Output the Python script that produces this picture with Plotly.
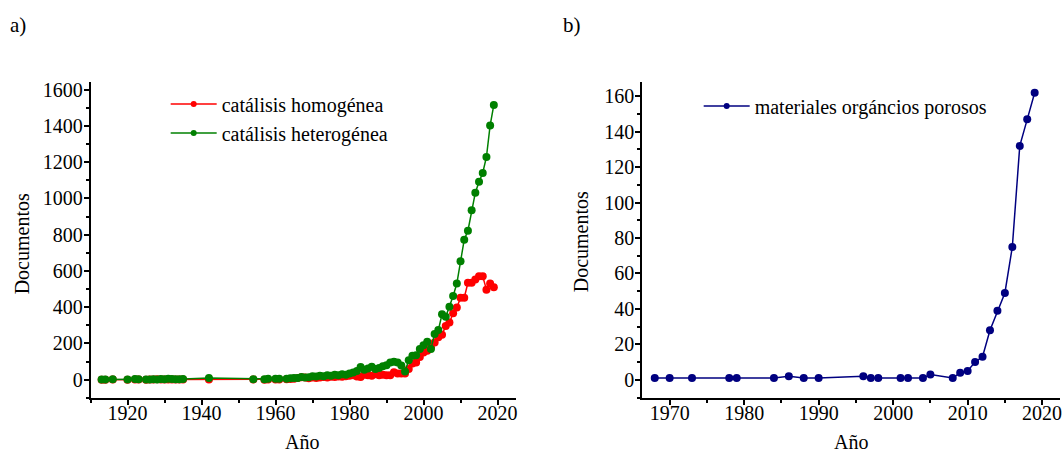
import plotly.graph_objects as go

# ---- a) catalysis publications per year ----
years_a = [1913, 1914, 1916, 1920, 1922, 1923, 1925, 1926, 1927, 1928, 1929, 1930,
           1931, 1932, 1933, 1934, 1935, 1942, 1954, 1957, 1958, 1960, 1961,
           1963, 1964, 1965, 1966, 1967, 1968, 1969, 1970, 1971, 1972, 1973, 1974,
           1975, 1976, 1977, 1978, 1979, 1980, 1981, 1982, 1983, 1984, 1985, 1986,
           1987, 1988, 1989, 1990, 1991, 1992, 1993, 1994, 1995, 1996, 1997, 1998,
           1999, 2000, 2001, 2002, 2003, 2004, 2005, 2006, 2007, 2008, 2009, 2010,
           2011, 2012, 2013, 2014, 2015, 2016, 2017, 2018, 2019]

homogenea = [0, 0, 1, 0, 1, 1, 0, 1, 2, 3, 1, 2,
             1, 2, 1, 2, 1, 1, 1, 0, 1, 1, 2,
             3, 4, 6, 10, 14, 12, 8, 12, 10, 13, 15, 12,
             17, 15, 18, 16, 20, 22, 25, 18, 15, 28, 25, 22,
             30, 25, 28, 25, 25, 42, 35, 35, 35, 60, 90, 95,
             125, 150, 160, 179, 206, 234, 248, 297, 316, 367, 398, 453,
             453, 535, 535, 553, 571, 571, 497, 531, 510]

heterogenea = [2, 2, 3, 2, 4, 3, 2, 2, 3, 2, 4, 3,
               5, 4, 3, 3, 4, 9, 3, 3, 5, 5, 6,
               6, 8, 10, 9, 15, 12, 14, 20, 18, 22, 20, 25,
               22, 27, 25, 30, 28, 35, 40, 48, 70, 55, 62, 72,
               60, 65, 75, 80, 95, 100, 95, 78, 45, 108, 133, 135,
               170, 190, 210, 170, 252, 274, 361, 347, 403, 462, 531, 654,
               773, 822, 935, 1032, 1092, 1141, 1229, 1403, 1516]

# ---- b) porous organic materials publications per year ----
years_b = [1968, 1970, 1973, 1978, 1979, 1984, 1986, 1988, 1990, 1996, 1997, 1998,
           2001, 2002, 2004, 2005, 2008, 2009, 2010, 2011, 2012, 2013, 2014, 2015,
           2016, 2017, 2018, 2019]
porosos = [1, 1, 1, 1, 1, 1, 2, 1, 1, 2, 1, 1,
           1, 1, 1, 3, 1, 4, 5, 10, 13, 28, 39, 49,
           75, 132, 147, 162]

FONT = "'Liberation Serif', 'Times New Roman', Times, serif"
FS = 20
W, H = 1062, 454

fig = go.Figure()

series_a = [("catálisis homogénea", homogenea, "#ff0000"),
            ("catálisis heterogénea", heterogenea, "#008000")]
for name, vals, col in series_a:
    fig.add_trace(go.Scatter(x=years_a, y=vals, mode="lines+markers", name=name,
                             line=dict(color=col, width=1.5),
                             marker=dict(color=col, size=8),
                             xaxis="x", yaxis="y", showlegend=False))
# legend entries use a smaller marker than the plotted points
for name, vals, col in series_a:
    fig.add_trace(go.Scatter(x=[None], y=[None], mode="lines+markers", name=name,
                             line=dict(color=col, width=1.5),
                             marker=dict(color=col, size=6),
                             xaxis="x", yaxis="y", legend="legend"))

fig.add_trace(go.Scatter(x=years_b, y=porosos, mode="lines+markers",
                         name="materiales orgáncios porosos",
                         line=dict(color="#000080", width=1.5),
                         marker=dict(color="#000080", size=8),
                         xaxis="x2", yaxis="y2", showlegend=False))
fig.add_trace(go.Scatter(x=[None], y=[None], mode="lines+markers",
                         name="materiales orgáncios porosos",
                         line=dict(color="#000080", width=1.5),
                         marker=dict(color="#000080", size=6),
                         xaxis="x2", yaxis="y2", legend="legend2"))


def axis(rng, dtick, tick0, mdtick, mtick0, domain, anchor, standoff):
    return dict(range=rng, domain=domain, anchor=anchor, dtick=dtick, tick0=tick0,
                tickmode="linear",
                showgrid=False, zeroline=False, showline=True, linecolor="black",
                linewidth=1.5, ticks="outside", ticklen=5, tickwidth=1.5,
                tickcolor="black", ticklabeloverflow="allow",
                ticklabelstandoff=standoff,
                tickfont=dict(family=FONT, size=FS, color="black"),
                minor=dict(ticks="outside", ticklen=3, tickwidth=1.5,
                           tickcolor="black", dtick=mdtick, tick0=mtick0,
                           showgrid=False))


ydom = [1 - 397.5 / H, 1 - 79.3 / H]
fig.update_layout(
    width=W, height=H,
    margin=dict(l=0, r=0, t=0, b=0),
    plot_bgcolor="white", paper_bgcolor="white",
    font=dict(family=FONT, size=FS, color="black"),
    xaxis=axis([1910, 2025], 20, 1920, 10, 1910, [90.7 / W, 517 / W], "y", -9),
    yaxis=axis([-100, 1644], 200, 0, 100, 0, ydom, "x", -3),
    xaxis2=axis([1966.3, 2022.4], 10, 1970, 5, 1965, [643.3 / W, 1.0], "y2", -9),
    yaxis2=axis([-10.2, 168.2], 20, 0, 10, 0, ydom, "x2", -3),
    legend=dict(x=166 / W, y=1 - 82 / H, xanchor="left", yanchor="top",
                bgcolor="rgba(0,0,0,0)", font=dict(family=FONT, size=FS),
                itemwidth=46, tracegroupgap=0),
    legend2=dict(x=700 / W, y=1 - 84 / H, xanchor="left", yanchor="top",
                 bgcolor="rgba(0,0,0,0)", font=dict(family=FONT, size=FS),
                 itemwidth=46),
)

labels = [
    ("a)", 8, 22, 0, "left", 21),
    ("b)", 562, 22, 0, "left", 21),
    ("Documentos", 22, 242, -90, "center", FS),
    ("Año", 303, 442, 0, "center", FS),
    ("Documentos", 583, 240, -90, "center", FS),
    ("Año", 853, 442, 0, "center", FS),
]
for text, px, py, ang, xa, fs in labels:
    fig.add_annotation(text=text, x=px / W, y=1 - py / H, xref="paper", yref="paper",
                       xanchor=xa, yanchor="middle", showarrow=False, textangle=ang,
                       font=dict(family=FONT, size=fs, color="black"))

fig.write_html("out.html")
